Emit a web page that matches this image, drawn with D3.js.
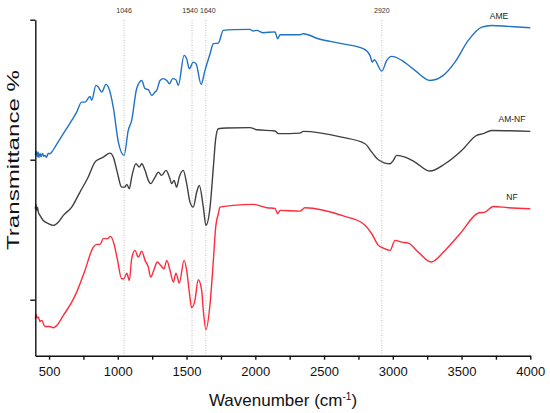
<!DOCTYPE html>
<html>
<head>
<meta charset="utf-8">
<script src="https://cdn.jsdelivr.net/npm/d3@7"></script>
<style>
  body { margin: 0; background: #fff; }
  svg { display: block; font-family: "Liberation Sans", Arial, sans-serif; }
</style>
</head>
<body>
<svg id="chart" width="550" height="413"></svg>
<script>
// FTIR spectra, transmittance in arbitrary units (spectra are offset)
const ameWave = [400, 408, 414, 420, 426, 434, 442, 452, 462, 470, 482, 494, 507, 520, 543, 604, 665, 701, 737, 761, 798, 810, 841, 858, 883, 914, 931, 967, 1004, 1046, 1076, 1101, 1137, 1174, 1198, 1222, 1247, 1271, 1283, 1307, 1331, 1356, 1375, 1399, 1423, 1440, 1482, 1501, 1520, 1549, 1569, 1606, 1634, 1671, 1695, 1731, 1767, 1840, 1961, 1985, 2010, 2058, 2143, 2163, 2180, 2325, 2349, 2458, 2628, 2785, 2834, 2851, 2865, 2920, 2956, 2992, 3065, 3161, 3271, 3367, 3452, 3549, 3647, 3719, 3840, 4000];
const ameT = [103.5, 106, 102, 105.5, 101.5, 104.5, 102, 104.5, 102.5, 103.1, 101.8, 104.5, 104.3, 105.5, 109, 118.6, 128.1, 134, 141.1, 141.1, 145.2, 142.4, 153.1, 151.9, 148.3, 153.8, 151.9, 137.6, 112.6, 103.1, 120.9, 128.1, 150.7, 156.6, 150.7, 150, 145.9, 148.3, 149.5, 156.6, 157.9, 156.6, 154.3, 157.9, 157.1, 153.1, 174.5, 172.1, 165, 169.7, 168.6, 153.8, 163.8, 175.7, 182.9, 183.3, 192.4, 192.9, 193.1, 191.9, 192.4, 190.7, 191.3, 186.4, 189.3, 189.3, 190, 186.4, 182.9, 179.3, 174.5, 169.7, 171.4, 163.3, 171, 173.8, 171, 163.8, 156.6, 160.2, 169.7, 185.2, 194.7, 195.9, 195.2, 194.3];

const amnfWave = [400, 404, 410, 416, 422, 434, 458, 495, 531, 567, 604, 665, 725, 785, 834, 871, 895, 943, 967, 996, 1028, 1052, 1065, 1084, 1101, 1132, 1156, 1174, 1198, 1222, 1239, 1271, 1295, 1319, 1351, 1375, 1392, 1409, 1428, 1447, 1476, 1501, 1525, 1549, 1574, 1593, 1622, 1641, 1671, 1695, 1712, 1731, 1792, 1961, 2010, 2143, 2167, 2325, 2349, 2628, 2798, 2847, 2895, 2980, 3004, 3028, 3089, 3161, 3271, 3380, 3501, 3610, 3658, 3719, 4000];
const amnfT = [65, 68, 63.8, 66, 62.6, 60.2, 56.6, 54.3, 53.1, 55.4, 60.2, 66.1, 76.9, 87.6, 98.3, 100.7, 101.9, 104.7, 101.9, 91.1, 80.4, 80.4, 82.4, 79.3, 87.6, 97.1, 94.7, 97.1, 92.4, 85.2, 82.9, 87.6, 91.1, 88.8, 92.4, 87.6, 82.9, 85.2, 80.4, 87.6, 92.4, 82.9, 69.7, 66.1, 76.9, 81.6, 66.1, 53.1, 66.1, 94.7, 115, 122.1, 122.6, 122.9, 121.4, 120.5, 118.6, 119, 120.2, 116.1, 111.4, 105.4, 100, 97.1, 99.5, 103.1, 101.9, 98.3, 91.9, 97.1, 106.6, 117.4, 118.6, 120.9, 120.2];

const nfWave = [400, 406, 412, 422, 434, 447, 470, 507, 531, 556, 604, 665, 701, 761, 822, 847, 871, 895, 924, 948, 972, 996, 1028, 1045, 1065, 1084, 1101, 1125, 1149, 1174, 1198, 1222, 1239, 1263, 1287, 1312, 1336, 1356, 1380, 1404, 1423, 1447, 1482, 1501, 1520, 1537, 1561, 1585, 1610, 1622, 1641, 1671, 1695, 1712, 1731, 1743, 1840, 1985, 2083, 2143, 2163, 2180, 2325, 2361, 2652, 2785, 2847, 2895, 2931, 2980, 3016, 3065, 3113, 3185, 3278, 3380, 3489, 3622, 3671, 3731, 3840, 4000];
const nfT = [-13.6, -10.5, -13, -12.4, -15.5, -14.8, -19.1, -19.1, -20, -18.4, -11.2, -1.7, 5.4, 20.9, 37.6, 39.5, 39.5, 43.6, 43.6, 45.2, 40, 29.3, 15, 15, 19, 13.8, 29.3, 35.2, 30.4, 34.7, 28.1, 23.3, 16.1, 21.4, 26.9, 24.5, 22.1, 28.1, 20.9, 12.6, 19, 11.9, 28.1, 20.9, 5.4, -5.7, -0.5, 14.3, 6.6, -7.6, -21.4, -2.9, 28.1, 52, 61.4, 66.1, 67.4, 68.1, 65.7, 65.2, 61.4, 63.8, 63.3, 65.7, 59.5, 54.3, 47.1, 38.8, 36.9, 35.2, 42.4, 41.1, 40.4, 34, 26.9, 35.2, 47.1, 61.9, 62.6, 66.6, 65.7, 65];

const seriesNames = ["AME", "AM-NF", "NF"];
const peakLines = [1046, 1540, 1640, 2920];
const xTicks = [500, 750, 1000, 1250, 1500, 1750, 2000, 2250, 2500, 2750, 3000, 3250, 3500, 3750, 4000];
const yTicks = [0, 100, 200];

const svg = d3.select("#chart");
const plotLeft = 35.3, plotRight = 530.3, plotTop = 19.7, plotBottom = 355.7;

const x = d3.scaleLinear().domain([400, 4000]).range([plotLeft, plotRight]);
const y = d3.scaleLinear().domain([-40, 200]).range([plotBottom, plotTop]);

// dotted guide lines at the marked bands
const peakDx = {1046: 0, 1540: -2, 1640: 2, 2920: 0};
svg.append("g").selectAll("line")
  .data(peakLines)
  .join("line")
    .attr("x1", d => x(d)).attr("x2", d => x(d))
    .attr("y1", 20).attr("y2", plotBottom)
    .attr("stroke", "#b8b8b8")
    .attr("stroke-width", 0.9)
    .attr("stroke-dasharray", "1,1.5");

svg.append("g").selectAll("text")
  .data(peakLines)
  .join("text")
    .attr("x", d => x(d) + peakDx[d])
    .attr("y", 13)
    .attr("text-anchor", "middle")
    .attr("font-size", 7)
    .attr("fill", "#333")
    .text(d => d);

const series = [
  {name: seriesNames[0], wave: ameWave, t: ameT, color: "#1f72c6", lx: 499, ly: 18.5},
  {name: seriesNames[1], wave: amnfWave, t: amnfT, color: "#404040", lx: 512, ly: 121.5},
  {name: seriesNames[2], wave: nfWave, t: nfT, color: "#ff2b3c", lx: 512, ly: 200}
];

const line = d3.line()
  .x(d => x(d[0]))
  .y(d => y(d[1]))
  .curve(d3.curveMonotoneX);

svg.append("g").selectAll("path")
  .data(series)
  .join("path")
    .attr("d", s => line(d3.zip(s.wave, s.t)))
    .attr("fill", "none")
    .attr("stroke", s => s.color)
    .attr("stroke-width", 1.4)
    .attr("stroke-linejoin", "round");

svg.append("g").selectAll("text")
  .data(series)
  .join("text")
    .attr("x", s => s.lx)
    .attr("y", s => s.ly)
    .attr("text-anchor", "middle")
    .attr("font-size", 8.5)
    .attr("fill", "#222")
    .text(s => s.name);

// axes
const xAxis = svg.append("g")
  .attr("transform", `translate(0,${plotBottom})`)
  .call(d3.axisBottom(x)
    .tickValues(xTicks)
    .tickSize(4)
    .tickSizeOuter(0)
    .tickFormat(d => d % 500 === 0 ? d : ""));
xAxis.selectAll("text").attr("font-size", 13).attr("fill", "#111").attr("dy", "1.05em")
  .attr("font-family", "Liberation Sans, Arial, sans-serif");

svg.append("g")
  .attr("transform", `translate(${plotLeft},0)`)
  .call(d3.axisLeft(y)
    .tickValues(yTicks)
    .tickSize(5)
    .tickSizeOuter(0)
    .tickFormat(""));

svg.selectAll(".domain, .tick line").attr("stroke", "#111").attr("stroke-width", 1.4);

svg.append("text")
  .attr("x", 283)
  .attr("y", 406)
  .attr("text-anchor", "middle")
  .attr("font-size", 17)
  .attr("fill", "#111")
  .html('Wavenumber (cm<tspan dy="-6" font-size="10">-1</tspan><tspan dy="6">)</tspan>');

svg.append("text")
  .attr("transform", "translate(19,160) rotate(-90)")
  .attr("text-anchor", "middle")
  .attr("font-size", 16.5)
  .attr("fill", "#111")
  .attr("textLength", 180)
  .attr("lengthAdjust", "spacingAndGlyphs")
  .text("Transmittance %");
</script>
</body>
</html>
